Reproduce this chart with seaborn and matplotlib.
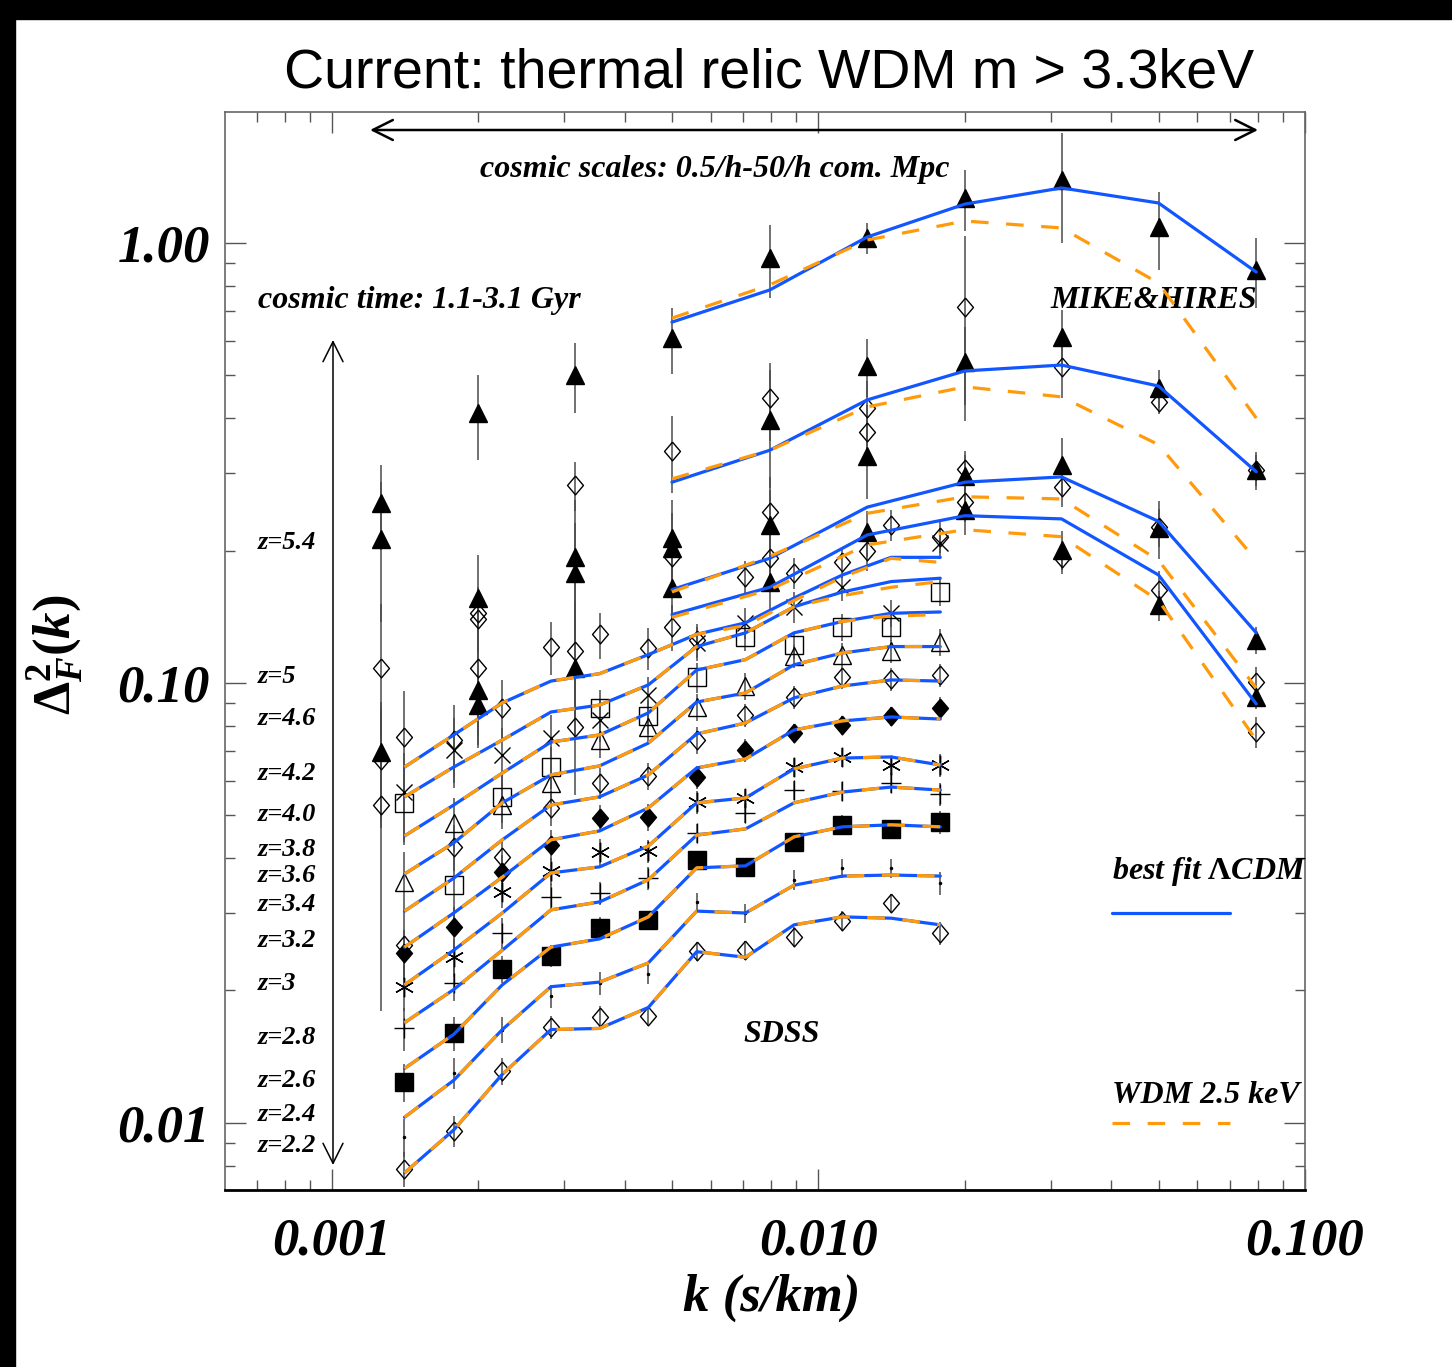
import numpy as np
import pandas as pd
import seaborn as sns
import matplotlib
matplotlib.use("Agg")
import matplotlib.pyplot as plt
from matplotlib.patches import Rectangle
from matplotlib.ticker import FixedLocator, FixedFormatter, LogLocator, NullFormatter

# ================================================= [ data ] =======================================================
# SDSS k bins (s/km) and redshift bins
k_sdss = [0.00141, 0.00178, 0.00224, 0.00282, 0.00355, 0.00447,
          0.00562, 0.00708, 0.00891, 0.0112, 0.0141, 0.0178]
z_sdss = [2.2, 2.4, 2.6, 2.8, 3.0, 3.2, 3.4, 3.6, 3.8, 4.0, 4.2]

# best fit LCDM model, SDSS redshifts
lcdm_sdss = {
    2.2: [0.00770, 0.00964, 0.0129, 0.0163, 0.0164, 0.0183, 0.0245, 0.0238, 0.0282, 0.0294, 0.0292, 0.0282],
    2.4: [0.0103, 0.0125, 0.0163, 0.0204, 0.0209, 0.0231, 0.0303, 0.0300, 0.0347, 0.0364, 0.0366, 0.0364],
    2.6: [0.0133, 0.0159, 0.0206, 0.0251, 0.0262, 0.0294, 0.0380, 0.0384, 0.0447, 0.0471, 0.0476, 0.0471],
    2.8: [0.0169, 0.0201, 0.0247, 0.0305, 0.0318, 0.0357, 0.0451, 0.0466, 0.0534, 0.0565, 0.0580, 0.0571],
    3.0: [0.0206, 0.0247, 0.0300, 0.0370, 0.0382, 0.0426, 0.0534, 0.0548, 0.0638, 0.0675, 0.0679, 0.0651],
    3.2: [0.0251, 0.0300, 0.0362, 0.0440, 0.0461, 0.0520, 0.0641, 0.0672, 0.0782, 0.0820, 0.0837, 0.0828],
    3.4: [0.0303, 0.0360, 0.0440, 0.0528, 0.0551, 0.0618, 0.0766, 0.0811, 0.0925, 0.0984, 0.1016, 0.1010],
    3.6: [0.0368, 0.0433, 0.0534, 0.0618, 0.0648, 0.0730, 0.0905, 0.0949, 0.110, 0.117, 0.121, 0.121],
    3.8: [0.0449, 0.0528, 0.0624, 0.0734, 0.0762, 0.0855, 0.107, 0.113, 0.130, 0.138, 0.144, 0.145],
    4.0: [0.0551, 0.0644, 0.0742, 0.0859, 0.0891, 0.0990, 0.121, 0.130, 0.149, 0.161, 0.170, 0.173],
    4.2: [0.0644, 0.0762, 0.0901, 0.101, 0.105, 0.116, 0.129, 0.137, 0.156, 0.176, 0.193, 0.193],
}

# WDM 2.5 keV model, SDSS redshifts
wdm_sdss = {
    2.2: [0.00770, 0.00964, 0.0129, 0.0163, 0.0164, 0.0183, 0.0245, 0.0238, 0.0282, 0.0294, 0.0292, 0.0282],
    2.4: [0.0103, 0.0125, 0.0163, 0.0204, 0.0209, 0.0231, 0.0303, 0.0300, 0.0347, 0.0364, 0.0366, 0.0364],
    2.6: [0.0133, 0.0159, 0.0206, 0.0251, 0.0262, 0.0294, 0.0380, 0.0384, 0.0447, 0.0471, 0.0476, 0.0471],
    2.8: [0.0169, 0.0201, 0.0247, 0.0305, 0.0318, 0.0357, 0.0451, 0.0466, 0.0534, 0.0565, 0.0580, 0.0571],
    3.0: [0.0206, 0.0247, 0.0300, 0.0370, 0.0382, 0.0426, 0.0534, 0.0548, 0.0638, 0.0675, 0.0679, 0.0651],
    3.2: [0.0251, 0.0300, 0.0362, 0.0440, 0.0461, 0.0520, 0.0641, 0.0672, 0.0782, 0.0820, 0.0837, 0.0828],
    3.4: [0.0303, 0.0360, 0.0440, 0.0528, 0.0551, 0.0618, 0.0766, 0.0811, 0.0925, 0.0984, 0.1016, 0.1010],
    3.6: [0.0368, 0.0433, 0.0534, 0.0618, 0.0648, 0.0730, 0.0905, 0.0949, 0.110, 0.117, 0.121, 0.121],
    3.8: [0.0449, 0.0528, 0.0624, 0.0734, 0.0762, 0.0855, 0.107, 0.113, 0.130, 0.138, 0.142, 0.143],
    4.0: [0.0551, 0.0644, 0.0742, 0.0859, 0.0891, 0.0990, 0.121, 0.130, 0.149, 0.158, 0.165, 0.170],
    4.2: [0.0644, 0.0762, 0.0901, 0.101, 0.105, 0.116, 0.129, 0.135, 0.154, 0.174, 0.192, 0.188],
}

# SDSS measurements and fractional 1-sigma errors
obs_sdss = {
    2.2: [0.00786, 0.00959, 0.0131, 0.0165, 0.0174, 0.0175, 0.0246, 0.0247, 0.0265, 0.0288, 0.0316, 0.0270],
    2.4: [0.00929, 0.0130, 0.0163, 0.0194, 0.0208, 0.0218, 0.0318, 0.0300, 0.0357, 0.0380, 0.0380, 0.0351],
    2.6: [0.0124, 0.0160, 0.0224, 0.0240, 0.0277, 0.0289, 0.0396, 0.0382, 0.0435, 0.0476, 0.0466, 0.0483],
    2.8: [0.0164, 0.0208, 0.0270, 0.0326, 0.0333, 0.0360, 0.0456, 0.0506, 0.0571, 0.0568, 0.0593, 0.0559],
    3.0: [0.0204, 0.0238, 0.0335, 0.0374, 0.0413, 0.0415, 0.0536, 0.0548, 0.0644, 0.0679, 0.0651, 0.0651],
    3.2: [0.0243, 0.0279, 0.0372, 0.0428, 0.0493, 0.0496, 0.0612, 0.0704, 0.0770, 0.0803, 0.0841, 0.0877],
    3.4: [0.0254, 0.0424, 0.0402, 0.0520, 0.0593, 0.0615, 0.0742, 0.0846, 0.0929, 0.103, 0.102, 0.104],
    3.6: [0.0353, 0.0481, 0.0528, 0.0593, 0.0742, 0.0794, 0.0882, 0.0984, 0.115, 0.116, 0.118, 0.124],
    3.8: [0.0534, 0.0347, 0.0551, 0.0644, 0.0877, 0.0841, 0.103, 0.127, 0.122, 0.134, 0.134, 0.161],
    4.0: [0.0565, 0.0704, 0.0686, 0.0750, 0.0824, 0.0939, 0.123, 0.137, 0.149, 0.165, 0.144, 0.208],
    4.2: [0.0754, 0.0742, 0.0877, 0.121, 0.129, 0.120, 0.125, 0.174, 0.178, 0.188, 0.229, 0.215],
}
err_sdss = {
    2.2: [0.09, 0.08, 0.07, 0.06, 0.06, 0.05, 0.05, 0.05, 0.05, 0.05, 0.05, 0.06],
    2.4: [0.10, 0.08, 0.07, 0.06, 0.06, 0.05, 0.05, 0.05, 0.05, 0.05, 0.05, 0.06],
    2.6: [0.10, 0.09, 0.07, 0.06, 0.06, 0.05, 0.05, 0.05, 0.05, 0.05, 0.05, 0.06],
    2.8: [0.11, 0.09, 0.08, 0.07, 0.06, 0.06, 0.05, 0.05, 0.05, 0.05, 0.05, 0.06],
    3.0: [0.12, 0.10, 0.08, 0.07, 0.07, 0.06, 0.06, 0.05, 0.05, 0.05, 0.05, 0.06],
    3.2: [0.13, 0.11, 0.09, 0.08, 0.07, 0.07, 0.06, 0.06, 0.05, 0.05, 0.05, 0.06],
    3.4: [0.15, 0.12, 0.10, 0.09, 0.08, 0.07, 0.07, 0.06, 0.06, 0.06, 0.06, 0.06],
    3.6: [0.17, 0.14, 0.12, 0.10, 0.09, 0.08, 0.07, 0.07, 0.06, 0.06, 0.06, 0.07],
    3.8: [0.20, 0.16, 0.13, 0.11, 0.10, 0.09, 0.08, 0.07, 0.07, 0.07, 0.07, 0.07],
    4.0: [0.23, 0.18, 0.15, 0.13, 0.11, 0.10, 0.09, 0.08, 0.08, 0.07, 0.07, 0.08],
    4.2: [0.27, 0.20, 0.16, 0.14, 0.12, 0.11, 0.09, 0.09, 0.08, 0.08, 0.08, 0.08],
}

# MIKE & HIRES k bins, model k range and redshifts
k_hr = [0.00126, 0.002, 0.00316, 0.005, 0.00794, 0.0126, 0.02, 0.0316, 0.05, 0.0794]
k_hr_model = [0.005, 0.00794, 0.0126, 0.02, 0.0316, 0.05, 0.0794]
z_hr = [5.4, 5.0, 4.6, 4.2]

lcdm_hr = {
    5.4: [0.661, 0.782, 1.032, 1.226, 1.334, 1.233, 0.859],
    5.0: [0.286, 0.338, 0.440, 0.512, 0.528, 0.473, 0.302],
    4.6: [0.163, 0.192, 0.251, 0.286, 0.294, 0.233, 0.130],
    4.2: [0.143, 0.165, 0.217, 0.240, 0.236, 0.176, 0.0896],
}
wdm_hr = {
    5.4: [0.675, 0.803, 1.016, 1.122, 1.082, 0.811, 0.400],
    5.0: [0.291, 0.338, 0.424, 0.471, 0.447, 0.348, 0.190],
    4.6: [0.161, 0.194, 0.243, 0.265, 0.262, 0.190, 0.0974],
    4.2: [0.141, 0.163, 0.206, 0.223, 0.215, 0.154, 0.0742],
}

# MIKE (filled triangles) and HIRES (open diamonds) measurements, fractional errors
nan = np.nan
mike_obs = {
    5.4: [0.257, 0.411, 0.501, 0.608, 0.925, 1.026, 1.266, 1.390, 1.087, 0.868],
    5.0: [0.212, 0.156, 0.193, 0.214, 0.396, 0.525, 0.536, 0.612, 0.468, 0.305],
    4.6: [0.0697, 0.0964, 0.178, 0.203, 0.229, 0.328, 0.295, 0.313, 0.225, 0.125],
    4.2: [nan, 0.0891, 0.108, 0.164, 0.170, 0.220, 0.247, 0.201, 0.150, 0.0929],
}
mike_err = {
    5.4: [0.22, 0.22, 0.18, 0.17, 0.19, 0.08, 0.16, 0.28, 0.20, 0.18],
    5.0: [0.35, 0.25, 0.35, 0.22, 0.30, 0.15, 0.20, 0.15, 0.10, 0.10],
    4.6: [0.30, 0.25, 0.30, 0.20, 0.20, 0.20, 0.12, 0.15, 0.15, 0.07],
    4.2: [nan, 0.20, 0.30, 0.15, 0.15, 0.12, 0.12, 0.10, 0.08, 0.06],
}
hires_obs = {
    5.0: [0.108, 0.144, 0.282, 0.337, 0.444, 0.422, 0.715, 0.523, 0.435, 0.305],
    4.6: [0.0668, 0.140, 0.118, 0.193, 0.245, 0.372, 0.306, 0.279, 0.226, 0.1005],
    4.2: [0.0528, 0.108, 0.0794, 0.134, 0.192, 0.200, 0.258, 0.192, 0.163, 0.0774],
}
hires_err = {
    5.0: [0.40, 0.15, 0.13, 0.20, 0.20, 0.15, 0.45, 0.15, 0.06, 0.08],
    4.6: [0.30, 0.15, 0.30, 0.15, 0.20, 0.15, 0.10, 0.10, 0.10, 0.08],
    4.2: [0.66, 0.30, 0.30, 0.12, 0.15, 0.10, 0.10, 0.08, 0.10, 0.08],
}

x_ticks = [0.001, 0.01, 0.1]
x_ticklabels = ["0.001", "0.010", "0.100"]
y_ticks = [0.01, 0.1, 1.0]
y_ticklabels = ["0.01", "0.10", "1.00"]

z_labels = ["z=5.4", "z=5", "z=4.6", "z=4.2", "z=4.0", "z=3.8", "z=3.6",
            "z=3.4", "z=3.2", "z=3", "z=2.8", "z=2.6", "z=2.4", "z=2.2"]

# ================================================= [ style ] =======================================================
sns.set_style("ticks")
plt.rcParams["font.family"] = ["Liberation Serif", "DejaVu Serif"]
plt.rcParams["font.weight"] = "bold"
plt.rcParams["font.style"] = "italic"
plt.rcParams["text.color"] = "black"
plt.rcParams["axes.labelcolor"] = "black"
plt.rcParams["xtick.labelcolor"] = "black"
plt.rcParams["ytick.labelcolor"] = "black"
plt.rcParams["mathtext.fontset"] = "custom"
plt.rcParams["mathtext.rm"] = "Liberation Serif:bold:roman"
plt.rcParams["mathtext.it"] = "Liberation Serif:bold:italic"
plt.rcParams["mathtext.bf"] = "Liberation Serif:bold:roman"

BLUE = "#1256ff"
ORANGE = "#ff9a0a"
BAR = "#4a4a4a"
DIAMOND = [(0, 1), (0.85, 0), (0, -1), (-0.85, 0), (0, 1)]
STAR6 = (6, 2, 0)

sdss_style = {
    2.2: dict(marker=DIAMOND, ms=13.5, mfc="none"),
    2.4: dict(marker=".", ms=3, mfc="black"),
    2.6: dict(marker="s", ms=13.5, mfc="black"),
    2.8: dict(marker="+", ms=14, mfc="none"),
    3.0: dict(marker=STAR6, ms=14, mfc="none"),
    3.2: dict(marker=DIAMOND, ms=13.5, mfc="black"),
    3.4: dict(marker=DIAMOND, ms=13.5, mfc="none"),
    3.6: dict(marker="^", ms=13, mfc="none"),
    3.8: dict(marker="s", ms=13, mfc="none"),
    4.0: dict(marker="x", ms=12, mfc="none"),
    4.2: dict(marker=DIAMOND, ms=13.5, mfc="none"),
}

W, H = 1452, 1367
fig = plt.figure(figsize=(W / 100, H / 100), dpi=100)
fig.patches.append(Rectangle((0, 1 - 19 / H), 1, 19 / H, transform=fig.transFigure,
                             color="black", zorder=0))
fig.patches.append(Rectangle((0, 0), 15 / W, 1, transform=fig.transFigure,
                             color="black", zorder=0))

ax = fig.add_axes([225 / W, 1 - 1190 / H, 1080 / W, 1078 / H])
ax.set_xscale("log")
ax.set_yscale("log")

# ============================================== [ error bars + points ] ================================================
def draw_points(k, vals, errs, style, z=3):
    v = np.asarray(vals, float)
    e = np.asarray(errs, float)
    ok = ~np.isnan(v)
    ax.vlines(np.asarray(k)[ok], (v * (1 - e))[ok], (v * (1 + e))[ok],
              colors=BAR, lw=1.1, zorder=2)
    ax.plot(np.asarray(k)[ok], v[ok], ls="none", mec="black", mew=1.0, zorder=z, **style)

for z in z_sdss:
    draw_points(k_sdss, obs_sdss[z], err_sdss[z], sdss_style[z])
for z in z_hr:
    draw_points(k_hr, mike_obs[z], mike_err[z], dict(marker="^", ms=13, mfc="black"))
for z in hires_obs:
    draw_points(k_hr, hires_obs[z], hires_err[z], dict(marker=DIAMOND, ms=13.5, mfc="none"))

# ================================================= [ models ] =======================================================
rows = []
for z in z_sdss:
    for k, a, b in zip(k_sdss, lcdm_sdss[z], wdm_sdss[z]):
        rows.append(dict(k=k, lcdm=a, wdm=b, curve=f"SDSS z={z}"))
for z in z_hr:
    for k, a, b in zip(k_hr_model, lcdm_hr[z], wdm_hr[z]):
        rows.append(dict(k=k, lcdm=a, wdm=b, curve=f"MIKE/HIRES z={z}"))
models = pd.DataFrame(rows)

sns.lineplot(data=models, x="k", y="lcdm", units="curve", estimator=None, sort=False,
             color=BLUE, lw=2.3, ax=ax, zorder=4)
sns.lineplot(data=models, x="k", y="wdm", units="curve", estimator=None, sort=False,
             color=ORANGE, lw=2.3, linestyle=(0, (5.5, 5.5)), ax=ax, zorder=5)

# ================================================= [ axes ] =======================================================
ax.set_xlim(6.03e-4, 0.1)
ax.set_ylim(7.04e-3, 1.985)
ax.set_xlabel("")
ax.set_ylabel("")

ax.xaxis.set_major_locator(FixedLocator(x_ticks))
ax.xaxis.set_major_formatter(FixedFormatter(x_ticklabels))
ax.yaxis.set_major_locator(FixedLocator(y_ticks))
ax.yaxis.set_major_formatter(FixedFormatter(y_ticklabels))
for a in (ax.xaxis, ax.yaxis):
    a.set_minor_locator(LogLocator(base=10, subs=np.arange(2, 10)))
    a.set_minor_formatter(NullFormatter())

ax.tick_params(which="both", direction="in", top=True, right=True, color="#555555",
               width=1.0, labelcolor="black")
ax.tick_params(which="major", length=15)
ax.tick_params(which="minor", length=7.5)
ax.tick_params(axis="x", which="major", pad=20, labelsize=38)
ax.tick_params(axis="y", which="major", pad=11, labelsize=38)

for side in ("left", "top", "right"):
    ax.spines[side].set_color("#666666")
    ax.spines[side].set_linewidth(1.2)
ax.spines["bottom"].set_color("black")
ax.spines["bottom"].set_linewidth(2.0)

# ================================================= [ annotations ] =======================================================
fig.text(769 / W, 1 - 73 / H, "Current: thermal relic WDM m > 3.3keV", ha="center", va="center",
         fontsize=40, family="Liberation Sans", weight="normal", style="normal", color="black")
fig.text(772 / W, 1 - 1298 / H, "k (s/km)", ha="center", va="center", fontsize=38)
fig.text(55 / W, 1 - 655 / H, r"$\mathbf{\Delta}^{\mathbf{2}}_{F}(k)$", ha="center", va="center",
         rotation=90, fontsize=38)

txt = dict(fontsize=23, transform=ax.transAxes, va="center", ha="left")
ax.text(0.2361, 0.9462, "cosmic scales: 0.5/h-50/h com. Mpc", **txt)
ax.text(0.0306, 0.8256, "cosmic time: 1.1-3.1 Gyr", **txt)
ax.text(0.7639, 0.8256, "MIKE&HIRES", **txt)
ax.text(0.4796, 0.1438, "SDSS", **txt)
ax.text(0.8213, 0.2950, r"best fit $\mathbf{\Lambda}$CDM", **txt)
ax.text(0.8213, 0.0881, "WDM 2.5 keV", **txt)

z_label_y = [0.6002, 0.4768, 0.4378, 0.3868, 0.3479, 0.3163, 0.2913,
             0.2644, 0.2319, 0.1920, 0.1419, 0.1020, 0.0696, 0.0417]
for lab, yy in zip(z_labels, z_label_y):
    ax.text(0.0306, yy, lab, fontsize=19, transform=ax.transAxes, va="center", ha="left")

ax.plot([0.8213, 0.9306], [0.2570, 0.2570], transform=ax.transAxes, color=BLUE, lw=2.3)
ax.plot([0.8213, 0.9306], [0.0622, 0.0622], transform=ax.transAxes, color=ORANGE, lw=2.3,
        linestyle=(0, (5.5, 5.5)))

ax.annotate("", xy=(0.1343, 0.9833), xytext=(0.9565, 0.9833), xycoords="axes fraction",
            arrowprops=dict(arrowstyle="<->,head_length=0.4,head_width=0.2", lw=1.8,
                            color="black", mutation_scale=36, shrinkA=0, shrinkB=0))
ax.annotate("", xy=(0.1, 0.7885), xytext=(0.1, 0.0232), xycoords="axes fraction",
            arrowprops=dict(arrowstyle="<->,head_length=0.4,head_width=0.2", lw=1.1,
                            color="black", mutation_scale=36, shrinkA=0, shrinkB=0))

fig.savefig("out.png", dpi=100)
